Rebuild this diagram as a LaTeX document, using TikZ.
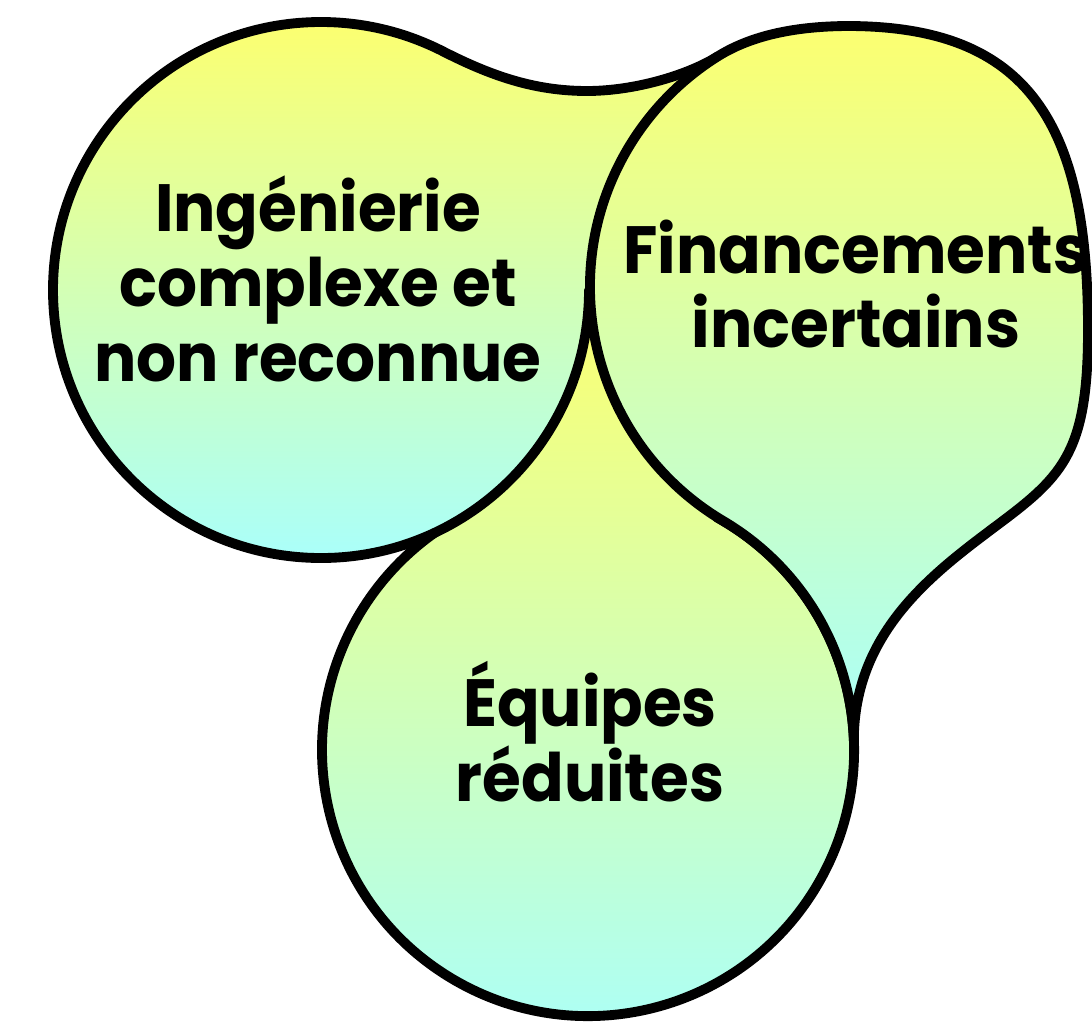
\documentclass[tikz,border=0pt]{standalone}
\usepackage{fontspec}
\setmainfont{Poppins}[FakeStretch=0.94]
\definecolor{topy}{RGB}{252,255,112}
\definecolor{botc}{RGB}{170,255,250}
\begin{document}
\begin{tikzpicture}[x=0.01cm,y=-0.01cm,
  blob/.style={draw=black, line width=2.8pt, line join=round, top color=topy, bottom color=botc},
  lbl/.style={align=center, font=\fontsize{19}{21.3}\selectfont\bfseries, text=black, inner sep=0pt}]
\useasboundingbox (0,0) rectangle (1092,1021);
% bottom shape
\path[blob] (453.4,520.6) -- (540,330) -- (588,300) -- (640,330) -- (717,517.4)
  arc[start angle=-61, end angle=239.6, radius=266] -- cycle;
% left shape
\path[blob] (589,290) arc[start angle=0, end angle=297, radius=268]
  .. controls (491.7,76.2) and (535,91) .. (587,91)
  .. controls (635,91) and (688.2,74.9) .. (717.9,56.3)
  -- (700,200) -- (600,290) -- cycle;
% right shape
\path[blob] (717.9,56.3) .. controls (756.1,32.4) and (805,26) .. (850,26)
  .. controls (1030,27) and (1088,125) .. (1088,330)
  .. controls (1088,450) and (1064,475) .. (1000,523)
  .. controls (936,571) and (853.8,630) .. (853.8,740.7)
  arc[start angle=-2, end angle=-59.38, radius=266]
  arc[start angle=120.62, end angle=238, radius=272] -- cycle;
\node[lbl] (ta) at (318,279) {Ingénierie\\complexe et\\non reconnue};
\node[lbl] (tb) at (856,284) {Financements\\incertains};
\node[lbl] (tc) at (590,732) {Équipes\\réduites};
\end{tikzpicture}
\end{document}
